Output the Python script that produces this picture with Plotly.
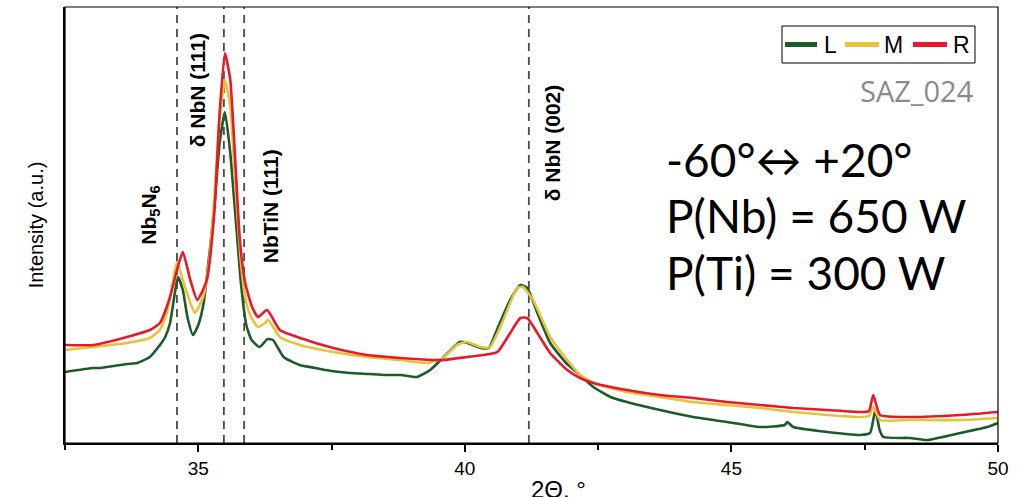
import plotly.graph_objects as go

# ---- data (2θ in degrees, intensity in arbitrary units) ----
L_x = [32.50, 33.03, 33.16, 33.66, 33.85, 34.09, 34.28, 34.38, 34.47, 34.56, 34.62, 34.71, 34.80, 34.90,
       35.00, 35.10, 35.20, 35.30, 35.40, 35.50, 35.60, 35.70, 35.80, 35.90, 36.00, 36.15, 36.30, 36.40,
       36.60, 36.90, 37.20, 37.50, 37.85, 38.20, 38.50, 38.80, 39.10, 39.35, 39.55, 39.70, 39.90, 40.05,
       40.30, 40.45, 40.60, 40.85, 41.04, 41.17, 41.36, 41.60, 41.90, 42.16, 42.41, 42.73, 43.04, 43.66,
       44.28, 44.92, 45.54, 46.00, 46.05, 46.16, 46.80, 47.42, 47.60, 47.70, 47.78, 47.85, 48.35, 48.67,
       49.29, 49.80, 50.00]
L_y = [71, 75, 75, 79, 80, 86, 98, 106, 120, 150, 166, 153, 125, 108,
       118, 140, 185, 235, 300, 331, 290, 225, 160, 118, 103, 96, 104, 103,
       86, 78, 75, 72, 70, 69, 68, 68, 66, 73, 83, 91, 101, 100,
       95, 95, 113, 143, 158, 155, 130, 100, 80, 68, 56, 46, 41, 33,
       26, 21, 16, 18, 21, 16, 11, 8, 10, 33, 13, 6, 5, 3,
       10, 16, 20]

M_x = [32.50, 33.03, 33.66, 34.09, 34.28, 34.41, 34.53, 34.60, 34.71, 34.85, 34.94, 35.09, 35.20, 35.30,
       35.40, 35.50, 35.60, 35.70, 35.80, 35.90, 36.00, 36.12, 36.25, 36.31, 36.53, 36.91, 37.53, 38.17,
       38.79, 39.29, 39.59, 39.85, 40.04, 40.29, 40.47, 40.72, 40.98, 41.09, 41.28, 41.60, 41.92, 42.16,
       42.41, 43.04, 43.66, 44.28, 44.92, 45.54, 46.16, 46.80, 47.42, 47.58, 47.66, 47.79, 48.35, 49.29,
       50.00]
M_y = [93, 96, 100, 105, 113, 130, 163, 181, 163, 140, 130, 146, 180, 245,
       325, 363, 336, 255, 180, 140, 125, 116, 120, 123, 106, 98, 91, 86,
       83, 80, 85, 98, 101, 96, 96, 123, 155, 156, 143, 106, 83, 68,
       60, 51, 46, 41, 38, 35, 31, 28, 26, 27, 36, 23, 23, 23,
       25]

R_x = [32.50, 33.03, 33.66, 34.09, 34.28, 34.47, 34.60, 34.71, 34.85, 34.98, 35.16, 35.30, 35.40, 35.50,
       35.60, 35.69, 35.78, 35.88, 36.01, 36.12, 36.29, 36.53, 36.91, 37.53, 38.17, 38.79, 39.40, 39.59,
       40.04, 40.34, 40.61, 40.85, 41.04, 41.17, 41.36, 41.60, 41.92, 42.16, 42.41, 43.04, 43.66, 44.28,
       44.92, 45.54, 46.16, 46.80, 47.42, 47.58, 47.66, 47.79, 48.35, 49.29, 50.00]
R_y = [98, 98, 106, 113, 120, 146, 173, 191, 163, 143, 163, 230, 330, 390,
       363, 286, 203, 160, 136, 126, 133, 113, 105, 95, 88, 85, 83, 83,
       86, 88, 91, 110, 125, 125, 110, 90, 73, 65, 60, 53, 48, 45,
       41, 38, 35, 33, 31, 32, 48, 28, 26, 28, 31]

series_names = ["L", "M", "R"]
series_colors = ["#1d5a2c", "#e8c23a", "#e8192c"]

ref_lines = [34.6, 35.48, 35.86, 41.2]
peak_labels = ["Nb<sub>5</sub>N<sub>6</sub>", "δ NbN (111)", "NbTiN (111)", "δ NbN (002)"]
peak_label_x = [34.09, 34.98, 36.35, 41.64]
peak_label_y = [228, 353, 237, 300]

x_ticks = [35, 40, 45, 50]
info_lines = ["-60°↔ +20°", "P(Nb) = 650 W", "P(Ti) = 300 W"]
sample_name = "SAZ_024"

# ---- layout geometry (pixels) ----
W, H = 1025, 497
PL, PR, PT, PB = 65, 998, 7, 443


def px(xp):
    return (xp - PL) / (PR - PL)


def py(yp):
    return (PB - yp) / (PB - PT)


fig = go.Figure()
for name, xs, ys, col in zip(series_names, [L_x, M_x, R_x], [L_y, M_y, R_y], series_colors):
    fig.add_trace(go.Scatter(x=xs, y=ys, mode="lines", name=name, showlegend=False,
                             line=dict(color=col, width=2.6, shape="spline", smoothing=0.5)))

for xv in ref_lines:
    fig.add_shape(type="line", xref="x", yref="paper", x0=xv, x1=xv, y0=0, y1=1,
                  line=dict(color="#4a4a4a", width=1.8, dash="8px,6px"), layer="below")

for t, xv, yv in zip(peak_labels, peak_label_x, peak_label_y):
    fig.add_annotation(x=xv, y=yv, xref="x", yref="y", text="<b>" + t + "</b>", textangle=-90,
                       showarrow=False, font=dict(family="Liberation Sans", size=21, color="black"))

# frame (top and right edges)
fig.add_shape(type="rect", xref="paper", yref="paper", x0=0, x1=1, y0=0, y1=1,
              line=dict(color="black", width=1.2))

# manual legend box
fig.add_shape(type="rect", xref="paper", yref="paper", x0=px(782), x1=px(975), y0=py(63), y1=py(26),
              line=dict(color="black", width=1), fillcolor="white")
leg_line_x = [(785, 817), (845, 879), (913, 947)]
leg_text_x = [830, 893, 961]
for (a, b), tx, name, col in zip(leg_line_x, leg_text_x, series_names, series_colors):
    fig.add_shape(type="line", xref="paper", yref="paper", x0=px(a), x1=px(b), y0=py(44.5), y1=py(44.5),
                  line=dict(color=col, width=5))
    fig.add_annotation(x=px(tx), y=py(45), xref="paper", yref="paper", text=name, showarrow=False,
                       xanchor="center", yanchor="middle",
                       font=dict(family="Liberation Sans", size=23, color="black"))

info_y = [160, 216, 272]
for t, yv in zip(info_lines, info_y):
    fig.add_annotation(x=px(664), y=py(yv), xref="paper", yref="paper", text=t, showarrow=False,
                       xanchor="left", yanchor="middle",
                       font=dict(family="Lato", size=46, color="black"))

fig.add_annotation(x=px(976), y=py(90), xref="paper", yref="paper", text=sample_name, showarrow=False,
                   xanchor="right", yanchor="middle",
                   font=dict(family="Open Sans", size=29, color="#8a8a8a"))

# x-axis title (placed as in the reference, slightly right of centre)
fig.add_annotation(x=px(558), y=py(474), xref="paper", yref="paper", text="2Θ, °", showarrow=False,
                   xanchor="center", yanchor="top",
                   font=dict(family="Liberation Sans", size=24, color="black"))

fig.update_layout(
    width=W, height=H,
    margin=dict(l=PL, r=W - PR, t=PT, b=H - PB),
    paper_bgcolor="white", plot_bgcolor="white",
    showlegend=False,
    xaxis=dict(range=[32.5, 50], tickmode="array", tickvals=x_ticks, automargin=False,
               ticks="outside", ticklen=7, tickwidth=1.5, tickcolor="black",
               minor=dict(dtick=2.5, tick0=32.5, ticks="outside", ticklen=5, tickwidth=1.5, tickcolor="black"),
               showline=True, linewidth=2, linecolor="black", showgrid=False, zeroline=False,
               tickfont=dict(family="Liberation Sans", size=19, color="black")),
    yaxis=dict(range=[0, 436], showticklabels=False, ticks="", showline=True, linewidth=1.5,
               linecolor="black", showgrid=False, zeroline=False, automargin=False,
               title=dict(text="Intensity (a.u.)", standoff=14,
                          font=dict(family="Liberation Sans", size=20, color="black"))),
)

fig.write_html("out.html", config={"displayModeBar": False},
               post_script="document.body.style.margin='0px';document.body.style.overflow='hidden';")
